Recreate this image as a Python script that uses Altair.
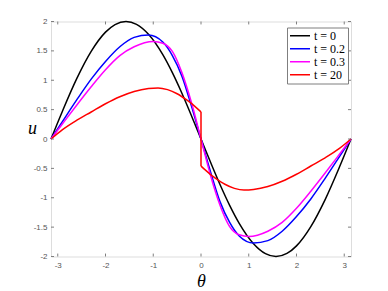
import altair as alt
import pandas as pd

PI = 3.1416

series_names = ["t = 0", "t = 0.2", "t = 0.3", "t = 20"]
series_colors = ["#000000", "#0000ff", "#ff00ff", "#ff0000"]

black_theta = [-3.1416, -2.9, -2.6, -2.3, -2.0, -1.8, -1.5708, -1.35, -1.1, -0.8, -0.6, -0.4, -0.2, 0.0,
               0.2, 0.4, 0.6, 0.8, 1.1, 1.35, 1.5708, 1.8, 2.0, 2.3, 2.6, 2.9, 3.1416]
black_u = [0, 0.478, 1.031, 1.491, 1.819, 1.948, 2.0, 1.951, 1.782, 1.435, 1.129, 0.779, 0.397, 0,
           -0.397, -0.779, -1.129, -1.435, -1.782, -1.951, -2.0, -1.948, -1.819, -1.491, -1.031, -0.478, 0]

blue_theta = [-3.1416, -2.9, -2.6, -2.3, -2.0, -1.7, -1.4, -1.1, -0.8, -0.6, -0.4, -0.2, 0.0,
              0.2, 0.4, 0.6, 0.8, 1.1, 1.4, 1.7, 2.0, 2.3, 2.6, 2.9, 3.1416]
blue_u = [0, 0.30, 0.67, 1.02, 1.32, 1.57, 1.73, 1.77, 1.65, 1.42, 1.07, 0.56, 0,
          -0.56, -1.07, -1.42, -1.65, -1.77, -1.73, -1.57, -1.32, -1.02, -0.67, -0.30, 0]

mag_theta = [-3.1416, -2.9, -2.6, -2.3, -2.0, -1.7, -1.4, -1.0, -0.8, -0.6, -0.4, -0.2, 0.0,
             0.2, 0.4, 0.6, 0.8, 1.0, 1.4, 1.7, 2.0, 2.3, 2.6, 2.9, 3.1416]
mag_u = [0, 0.26, 0.58, 0.89, 1.18, 1.42, 1.57, 1.66, 1.63, 1.49, 1.13, 0.62, 0,
         -0.62, -1.13, -1.49, -1.63, -1.66, -1.57, -1.42, -1.18, -0.89, -0.58, -0.26, 0]

red_left_theta = [-3.1416, -2.9, -2.6, -2.3, -2.0, -1.7, -1.4, -1.1, -0.9, -0.7, -0.5, -0.3, -0.2, -0.1, 0.0]
red_left_u = [0, 0.16, 0.32, 0.46, 0.60, 0.72, 0.81, 0.86, 0.87, 0.84, 0.77, 0.665, 0.605, 0.535, 0.46]
red_jump_theta = [0.0, 0.0]
red_jump_u = [0.46, -0.46]
red_right_theta = [0.0, 0.1, 0.2, 0.3, 0.5, 0.7, 0.9, 1.1, 1.4, 1.7, 2.0, 2.3, 2.6, 2.9, 3.1416]
red_right_u = [-0.46, -0.535, -0.605, -0.665, -0.77, -0.84, -0.87, -0.86, -0.81, -0.72, -0.60, -0.46, -0.32, -0.16, 0]

x_ticks = [-3, -2, -1, 0, 1, 2, 3]
y_ticks = [-2, -1.5, -1, -0.5, 0, 0.5, 1, 1.5, 2]

rows = []
def add(series, seg, th, uu):
    for i, (a, b) in enumerate(zip(th, uu)):
        rows.append({"series": series, "seg": seg, "idx": i, "theta": a, "u": b})

add("t = 0", "s0", black_theta, black_u)
add("t = 0.2", "s1", blue_theta, blue_u)
add("t = 0.3", "s2", mag_theta, mag_u)
add("t = 20", "s3a", red_left_theta, red_left_u)
add("t = 20", "s3b", red_jump_theta, red_jump_u)
add("t = 20", "s3c", red_right_theta, red_right_u)
df = pd.DataFrame(rows)

AX = "#7f7f7f"
LBL = "#555555"
label_expr = "datum.value < 0 ? '-' + toString(-datum.value) : toString(datum.value)"

xscale = alt.Scale(domain=[-PI, PI], nice=False, zero=False)
yscale = alt.Scale(domain=[-2, 2], nice=False, zero=False)

xaxis = alt.Axis(values=x_ticks, tickSize=0, domain=False, grid=False,
                 labelFont="Liberation Sans", labelFontSize=8, labelColor=LBL,
                 labelPadding=5, labelExpr=label_expr, labelOverlap=False, labelFlush=False,
                 title="θ", titleFont="Liberation Serif", titleFontStyle="italic",
                 titleFontSize=18, titleFontWeight="normal", titleColor="black",
                 titleY=30, titleBaseline="alphabetic")
yaxis = alt.Axis(values=y_ticks, tickSize=0, domain=False, grid=False,
                 labelFont="Liberation Sans", labelFontSize=8, labelColor=LBL,
                 labelPadding=4, labelExpr=label_expr, labelOverlap=False, labelFlush=False,
                 title="u", titleFont="Liberation Serif", titleFontStyle="italic",
                 titleFontSize=18, titleFontWeight="normal", titleColor="black",
                 titleAngle=0, titleX=-19, titleY=112, titleAlign="center",
                 titleBaseline="alphabetic")

main = alt.Chart(df).mark_line(interpolate="monotone", strokeWidth=1.5).encode(
    x=alt.X("theta:Q", scale=xscale, axis=xaxis),
    y=alt.Y("u:Q", scale=yscale, axis=yaxis),
    color=alt.Color("series:N", scale=alt.Scale(domain=series_names, range=series_colors),
                    legend=alt.Legend(orient="none", legendX=236, legendY=6, title=None,
                                      symbolType="stroke", symbolSize=400, symbolStrokeWidth=1.5,
                                      labelFont="Liberation Serif", labelFontSize=12, labelColor="black",
                                      labelOffset=3, strokeColor=AX, fillColor="white", padding=2,
                                      rowPadding=0, clipHeight=12.5)),
    detail="seg:N",
    order="idx:Q",
)

xt = pd.DataFrame({"theta": x_ticks})
yt = pd.DataFrame({"u": y_ticks})
tick_bottom = alt.Chart(xt).mark_rule(color=AX, strokeWidth=1).encode(
    x=alt.X("theta:Q", scale=xscale, axis=xaxis),
    y=alt.Y(datum=-2.0, scale=yscale, axis=yaxis), y2=alt.datum(-1.95))
tick_top = alt.Chart(xt).mark_rule(color=AX, strokeWidth=1).encode(
    x=alt.X("theta:Q", scale=xscale, axis=xaxis),
    y=alt.Y(datum=2.0, scale=yscale, axis=yaxis), y2=alt.datum(1.95))
tick_left = alt.Chart(yt).mark_rule(color=AX, strokeWidth=1).encode(
    y=alt.Y("u:Q", scale=yscale, axis=yaxis),
    x=alt.X(datum=-PI, scale=xscale, axis=xaxis), x2=alt.datum(-PI + 0.063))
tick_right = alt.Chart(yt).mark_rule(color=AX, strokeWidth=1).encode(
    y=alt.Y("u:Q", scale=yscale, axis=yaxis),
    x=alt.X(datum=PI, scale=xscale, axis=xaxis), x2=alt.datum(PI - 0.063))

chart = alt.layer(main, tick_bottom, tick_top, tick_left, tick_right).properties(
    width=300, height=235,
    padding={"left": 43, "top": 13.5, "right": 29, "bottom": 34},
    autosize=alt.AutoSizeParams(type="none"),
).configure_view(stroke=AX, strokeWidth=1).configure_legend(
    labelFont="Liberation Serif", labelFontSize=12
).configure(background="white")

chart.save("out.html", embed_options={"renderer": "svg", "actions": False})
